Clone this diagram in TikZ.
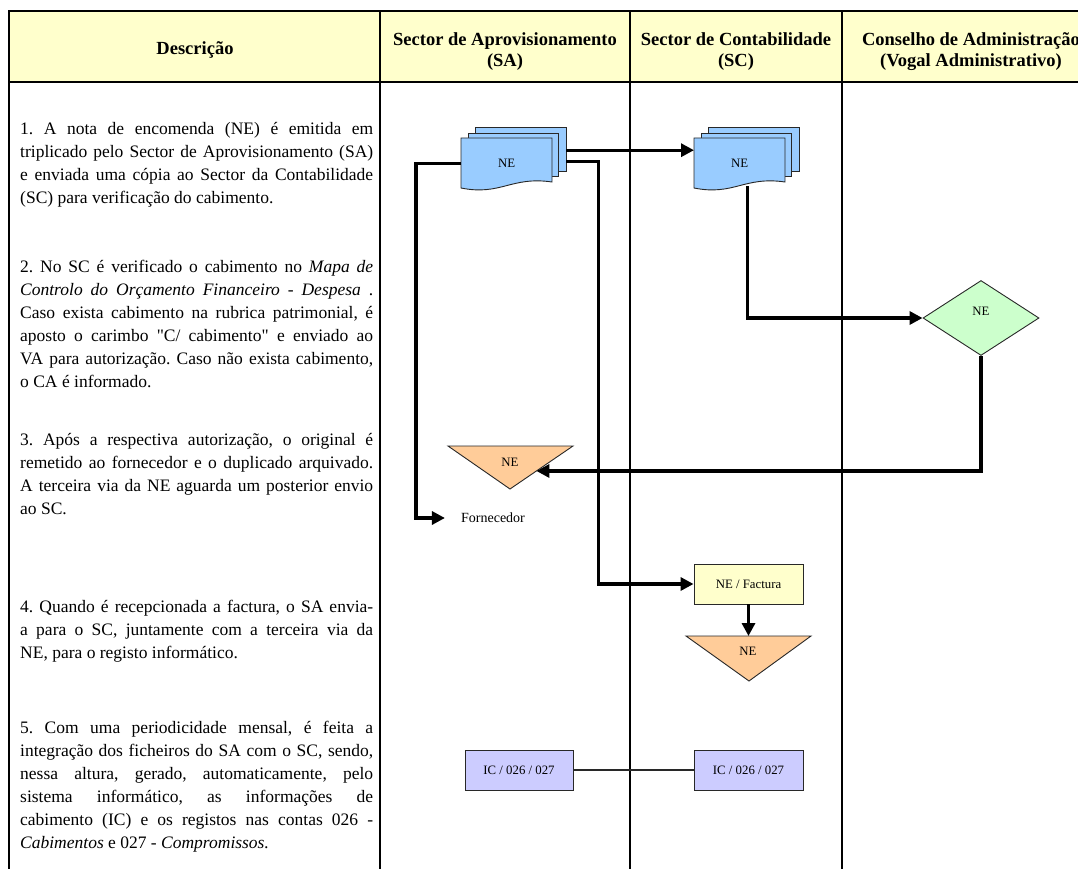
\documentclass[tikz,border=0pt]{standalone}
\usepackage{fontspec}
\setmainfont{Liberation Serif}
\usetikzlibrary{arrows.meta,shapes.geometric,calc}
\frenchspacing
\definecolor{hdrfill}{HTML}{FFFFCC}
\definecolor{docblue}{HTML}{99CCFF}
\definecolor{diagreen}{HTML}{CCFFCC}
\definecolor{peach}{HTML}{FFCC99}
\definecolor{icblue}{HTML}{CCCCFF}
\definecolor{edge}{HTML}{282828}
\newcommand\mdoc[3]{%
  \filldraw[docst] (#1+14,#2-11) rectangle (#1+105,#2+33);
  \filldraw[docst] (#1+7,#2-5) rectangle (#1+97,#2+38);
  \filldraw[docst] (#1,#2) -- (#1+91,#2) -- (#1+91,#2+44)
     .. controls (#1+50,#2+38) and (#1+40,#2+58) .. (#1,#2+50) -- cycle;
  \node[lbl, minimum width=91pt, minimum height=50pt, anchor=north west] (#3) at (#1,#2) {NE};
}
\begin{document}
\begin{tikzpicture}[x=1pt,y=-1pt,
  lbl/.style={inner sep=0pt, font=\fontsize{12.8}{15}\selectfont},
  docst/.style={fill=docblue, draw=edge, line width=0.9pt},
  boxst/.style={draw=edge, line width=0.9pt, inner sep=0pt, font=\fontsize{12.8}{15}\selectfont},
  trist/.style={fill=peach, draw=edge, line width=0.9pt},
  conn/.style={line width=3.2pt, -{Triangle[length=13pt,width=13pt]}},
  hd/.style={align=center, inner sep=0pt, font=\bfseries\fontsize{18.5}{21}\selectfont},
  desc/.style={text width=353pt, align=justify, inner sep=0pt, anchor=base west, font=\fontsize{17.5}{23}\selectfont},
  colline/.style={line width=1.3pt}]
\useasboundingbox (0,0) rectangle (1078,869);
\clip (0,0) rectangle (1078,869);
% table
\fill[hdrfill] (9,11) rectangle (1100,82);
\draw[colline, line width=1.8pt] (380,82) -- (380,880);
\draw[colline] (630,82) -- (630,880);
\draw[colline] (842,82) -- (842,880);
\draw[line width=2.4pt] (380,11) -- (380,82);
\draw[line width=2.4pt] (630,11) -- (630,82);
\draw[line width=2.4pt] (842,11) -- (842,82);
\draw[line width=2.4pt] (1100,11) -- (9,11) -- (9,880);
\draw[line width=2.4pt] (9,82) -- (1100,82);
% headers
\node[hd] (h0) at (195,50) {Descrição};
\node[hd] (h1) at (505,52) {Sector de Aprovisionamento\\(SA)};
\node[hd] (h2) at (736,52) {Sector de Contabilidade\\(SC)};
\node[hd] (h3) at (971,52) {Conselho de Administração\\(Vogal Administrativo)};
% descriptions
\node[desc] (p1) at (20,135) {1. A nota de encomenda (NE) é emitida em\linebreak triplicado pelo Sector de Aprovisionamento (SA)\linebreak e enviada uma cópia ao Sector da Contabilidade\linebreak (SC) para verificação do cabimento.};
\node[desc] (p2) at (20,272) {2. No SC é verificado o cabimento no \emph{Mapa de\linebreak Controlo do Orçamento Financeiro - Despesa} .\linebreak Caso exista cabimento na rubrica patrimonial, é\linebreak aposto o carimbo \textquotedbl C/ cabimento\textquotedbl{} e enviado ao\linebreak VA para autorização. Caso não exista cabimento,\linebreak o CA é informado.};
\node[desc] (p3) at (20,445) {3. Após a respectiva autorização, o original é\linebreak remetido ao fornecedor e o duplicado arquivado.\linebreak A terceira via da NE aguarda um posterior envio\linebreak ao SC.};
\node[desc] (p4) at (20,612) {4. Quando é recepcionada a factura, o SA envia-\linebreak a para o SC, juntamente com a terceira via da\linebreak NE, para o registo informático.};
\node[desc] (p5) at (20,733) {5. Com uma periodicidade mensal, é feita a\linebreak integração dos ficheiros do SA com o SC, sendo,\linebreak nessa altura, gerado, automaticamente, pelo\linebreak sistema informático, as informações de\linebreak cabimento (IC) e os registos nas contas 026 -\linebreak \emph{Cabimentos} e 027 - \emph{Compromissos.}};
% shapes
\mdoc{461}{138}{sadoc}
\mdoc{694}{138}{scdoc}
\node[diamond, fill=diagreen, draw=edge, line width=0.9pt, minimum width=116pt, minimum height=75pt, inner sep=0pt] (dia) at (981,318) {};
\node[lbl] (diatxt) at (981,311) {NE};
\filldraw[trist] (448,446) coordinate (t1a) -- (573,446) coordinate (t1b) -- (510,489) coordinate (t1c) -- cycle;
\node[lbl] (t1) at (510,462) {NE};
\node[lbl, font=\fontsize{14}{16}\selectfont] (forn) at (493,518) {Fornecedor};
\node[boxst, fill=hdrfill, minimum width=109pt, minimum height=40pt] (fact) at (748.5,584) {NE / Factura};
\filldraw[trist] (686,636) coordinate (t2a) -- (811,636) coordinate (t2b) -- (749,681) coordinate (t2c) -- cycle;
\coordinate (t2top) at ($(t2a)!0.5!(t2b)$);
\node[lbl] (t2) at (748,651) {NE};
\node[boxst, fill=icblue, minimum width=108pt, minimum height=40pt] (ic1) at (519,770) {IC / 026 / 027};
\node[boxst, fill=icblue, minimum width=109pt, minimum height=40pt] (ic2) at (748.5,770) {IC / 026 / 027};
% connectors
\draw[conn] ($(sadoc.east)+(14,-13)$) -- ($(scdoc.west)+(0,-13)$);
\draw[conn] (sadoc.west) -- ++(-45,0) |- ([xshift=-16pt]forn.west);
\draw[conn] ($(sadoc.east)+(14,-2)$) -- ++(32,0) |- (fact.west);
\draw[conn] ($(scdoc.south)+(8,-2)$) |- (dia.west);
\draw[conn] (dia.south) |- ($(t1b)!0.581!(t1c)$);
\draw[conn] (fact.south) -- (t2top);
\draw[line width=1.1pt, draw=edge] (ic1.east) -- (ic2.west);
\end{tikzpicture}
\end{document}
